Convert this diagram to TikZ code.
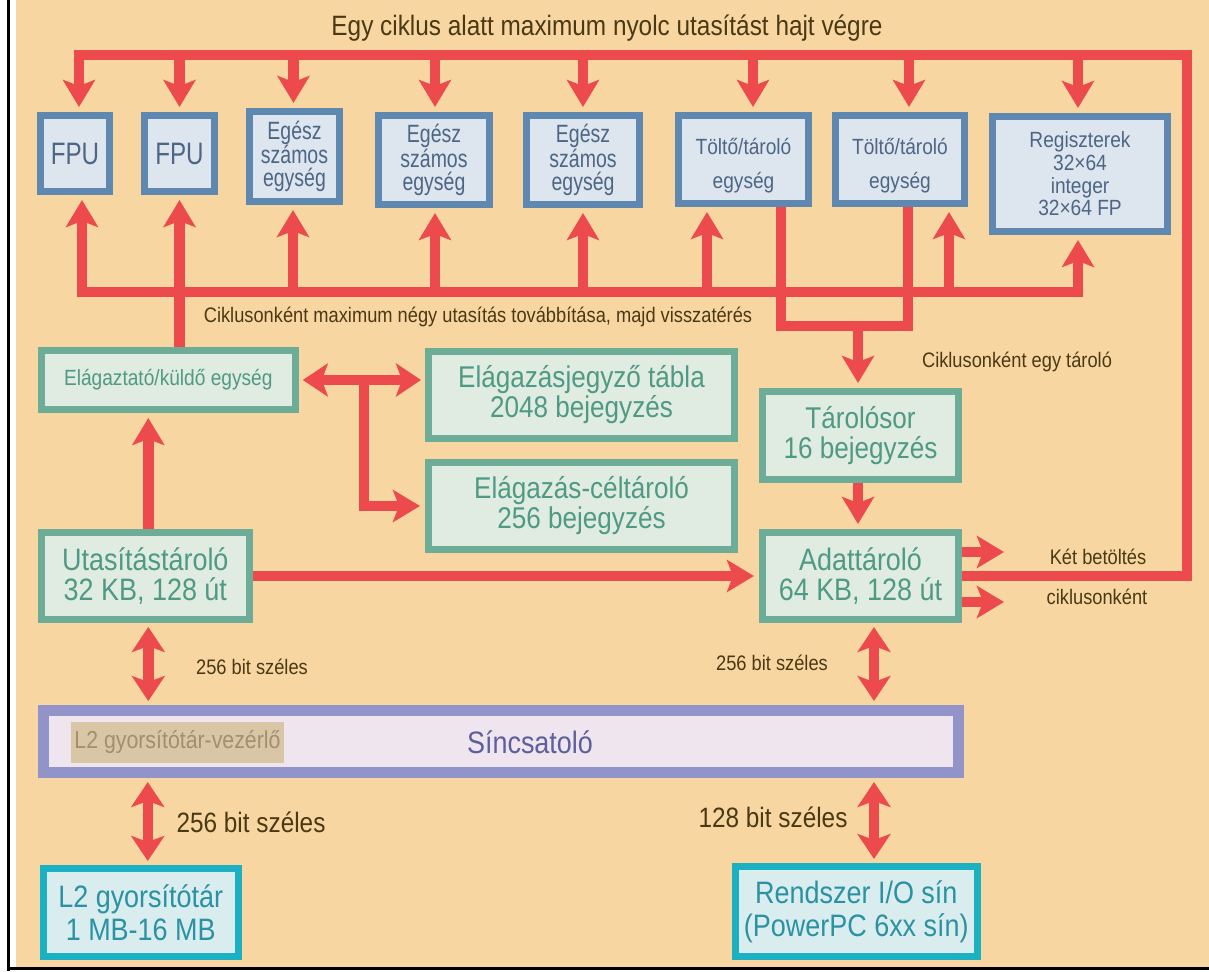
\documentclass[tikz,border=0pt]{standalone}
\usepackage{fontspec}
\setmainfont{Liberation Sans}
\newfontfamily\cf[FakeStretch=0.87]{Liberation Sans}
\newfontfamily\cfn[FakeStretch=0.78]{Liberation Sans}
\usetikzlibrary{arrows.meta}
\definecolor{bg}{HTML}{F8D6A2}
\definecolor{arr}{HTML}{EC4A4C}
\definecolor{bluebd}{HTML}{5E88AF}
\definecolor{bluefl}{HTML}{DDE5EE}
\definecolor{bluetx}{HTML}{4D6685}
\definecolor{greenbd}{HTML}{6DAD97}
\definecolor{greenfl}{HTML}{E0EBE1}
\definecolor{greentx}{HTML}{4F9A85}
\definecolor{purbd}{HTML}{9294C9}
\definecolor{purfl}{HTML}{EEE5EE}
\definecolor{purtx}{HTML}{5F5F9C}
\definecolor{cyanbd}{HTML}{1BB1C3}
\definecolor{cyanfl}{HTML}{D9ECEE}
\definecolor{cyantx}{HTML}{2A92A3}
\definecolor{tanfl}{HTML}{D8C6A6}
\definecolor{tantx}{HTML}{A48F6D}
\definecolor{lbl}{HTML}{4A3912}
\tikzset{
  bluebox/.style={draw=bluebd, fill=bluefl, line width=7pt, text=bluetx, align=center, inner sep=0pt},
  greenbox/.style={draw=greenbd, fill=greenfl, line width=7pt, text=greentx, align=center, inner sep=0pt, font=\cf\fontsize{30}{30}\selectfont},
  cyanbox/.style={draw=cyanbd, fill=cyanfl, line width=7pt, text=cyantx, align=center, inner sep=0pt, font=\cf\fontsize{31}{33}\selectfont},
  fpufont/.style={font=\cfn\fontsize{31}{31}\selectfont},
  egfont/.style={font=\cfn\fontsize{25}{23}\selectfont},
  ttfont/.style={font=\cf\fontsize{22}{34}\selectfont},
  ttlabel/.style={text=bluetx, align=center, inner sep=0pt, ttfont},
  smalllbl/.style={text=lbl, inner sep=0pt, font=\cf\fontsize{21}{21}\selectfont},
  biglbl/.style={text=lbl, inner sep=0pt, font=\cf\fontsize{28}{28}\selectfont},
  redline/.style={draw=arr, line width=10.5pt, line join=miter},
  redarrow/.style={redline, -{Stealth[length=27pt,width=32pt,inset=6pt]}, shorten >=5pt},
  reddbl/.style={redline, {Stealth[length=25pt,width=33pt,inset=6pt]}-{Stealth[length=25pt,width=33pt,inset=6pt]}, shorten >=4pt, shorten <=4pt}
}
\begin{document}
\begin{tikzpicture}[x=1pt,y=-1pt]
\useasboundingbox (0,0) rectangle (1209,971);
\fill[white] (0,0) rectangle (1209,971);
\fill[bg] (16,0) rectangle (1209,967);
\fill[black] (7,0) rectangle (9.5,971);
\fill[black] (7,967) rectangle (1209,970);

% title and labels
\node[biglbl] (title) at (607,28) {Egy ciklus alatt maximum nyolc utasítást hajt végre};
\node[smalllbl] (lblbus) at (478,317) {Ciklusonként maximum négy utasítás továbbítása, majd visszatérés};
\node[smalllbl] (lblstore) at (1017,362) {Ciklusonként egy tároló};
\node[smalllbl] (lblket) at (1098,557) {Két betöltés};
\node[smalllbl] (lblcik) at (1097,597) {ciklusonként};
\node[smalllbl] (lbl256a) at (252,667) {256 bit széles};
\node[smalllbl] (lbl256b) at (772,663) {256 bit széles};
\node[biglbl] (lbl256c) at (251,822) {256 bit széles};
\node[biglbl] (lbl128) at (773,817) {128 bit széles};

% top row
\node[bluebox, fpufont, minimum width=69pt, minimum height=76pt] (fpu1) at (75,153.5) {FPU};
\node[bluebox, fpufont, minimum width=70pt, minimum height=76pt] (fpu2) at (179.5,153.5) {FPU};
\node[bluebox, egfont, minimum width=90pt, minimum height=90pt] (eg1) at (294.5,156.5) {Egész\\számos\\egység};
\node[bluebox, egfont, minimum width=111pt, minimum height=89pt] (eg2) at (434,160) {Egész\\számos\\egység};
\node[bluebox, egfont, minimum width=113pt, minimum height=89pt] (eg3) at (583,160) {Egész\\számos\\egység};
\node[bluebox, minimum width=130pt, minimum height=88pt] (tt1) at (743.5,159.5) {};
\node[ttlabel] (tt1t) at (743.5,166) {Töltő/tároló\\egység};
\node[bluebox, minimum width=129pt, minimum height=88pt] (tt2) at (900,159.5) {};
\node[ttlabel] (tt2t) at (900,166) {Töltő/tároló\\egység};
\node[bluebox, font=\cf\fontsize{22}{22.7}\selectfont, minimum width=175pt, minimum height=115pt] (reg) at (1080,174) {Regiszterek\\32×64\\integer\\32×64 FP};

% middle
\node[greenbox, font=\cf\fontsize{22}{22}\selectfont, minimum width=254pt, minimum height=59pt] (ela) at (168.3,380) {Elágaztató/küldő egység};
\node[greenbox, minimum width=306pt, minimum height=87pt] (jegy) at (581.5,395) {Elágazásjegyző tábla\\2048 bejegyzés};
\node[greenbox, minimum width=306pt, minimum height=87pt] (cel) at (581.5,506) {Elágazás-céltároló\\256 bejegyzés};
\node[greenbox, minimum width=196pt, minimum height=88pt] (taro) at (860.5,435.5) {Tárolósor\\16 bejegyzés};
\node[greenbox, font=\cf\fontsize{31}{30}\selectfont, minimum width=196pt, minimum height=87pt] (ada) at (860.5,576) {Adattároló\\64 KB, 128 út};
\node[greenbox, font=\cf\fontsize{31}{30}\selectfont, minimum width=208pt, minimum height=87pt] (uta) at (145.3,576) {Utasítástároló\\32 KB, 128 út};

% bus interface
\node[draw=purbd, fill=purfl, line width=11pt, minimum width=915pt, minimum height=62pt, inner sep=0pt] (bar) at (500.8,741.5) {};
\node[fill=tanfl, text=tantx, inner sep=0pt, minimum width=213pt, minimum height=41pt, font=\cf\fontsize{24.5}{24.5}\selectfont] (l2c) at (177.5,742.5) {L2 gyorsítótár-vezérlő};
\node[text=purtx, inner sep=0pt, font=\cf\fontsize{31}{31}\selectfont] (sinc) at (530,742) {Síncsatoló};

% bottom
\node[cyanbox, minimum width=195.5pt, minimum height=88pt] (l2) at (140.75,912.5) {L2 gyorsítótár\\1 MB-16 MB};
\node[cyanbox, minimum width=241.6pt, minimum height=90pt] (rend) at (856.3,911.5) {Rendszer I/O sín\\(PowerPC 6xx sín)};

% coordinates
\coordinate (topy) at (0,55);
\coordinate (tr) at (1187,55);
\coordinate (busy) at (0,292);
\coordinate (ubot) at (0,326);
\coordinate (k1) at (1004,552);
\coordinate (k2) at (1004,602);
\coordinate (brx) at (364,0);

% top distribution
\draw[redarrow] (ada.east) -| (tr) -| ([xshift=4pt]fpu1.north);
\foreach \b/\s in {fpu2/0, eg1/-1, eg2/1, eg3/0, tt1/9.5, tt2/9, reg/-2}{
  \draw[redarrow] ([xshift=\s pt]\b.north |- topy) -- ([xshift=\s pt]\b.north);
}

% dispatch bus
\draw[redline, {Stealth[length=27pt,width=32pt,inset=6pt]}-{Stealth[length=27pt,width=32pt,inset=6pt]}, shorten <=5pt, shorten >=5pt]
  ([xshift=7pt]fpu1.south) |- ([xshift=-2pt]reg.south |- busy) -- ([xshift=-2pt]reg.south);
\foreach \b/\s in {eg1/-1.5, eg2/1, eg3/0, tt1/-36.5, tt2/49}{
  \draw[redarrow] ([xshift=\s pt]\b.south |- busy) -- ([xshift=\s pt]\b.south);
}
\draw[redarrow] (ela.north -| fpu2.south) -- (fpu2.south);

% store path
\draw[redline] ([xshift=37.5pt]tt1.south) -- ([xshift=37.5pt]tt1.south |- ubot) -- ([xshift=8pt]tt2.south |- ubot) -- ([xshift=8pt]tt2.south);
\draw[redarrow] ([xshift=-2.5pt]taro.north |- ubot) -- ([xshift=-2.5pt]taro.north);
\draw[redarrow] ([xshift=-2.5pt]taro.south) -- ([xshift=-2.5pt]ada.north);

% loads
\draw[redarrow, shorten >=0pt] (ada.east |- k1) -- (k1);
\draw[redarrow, shorten >=0pt] (ada.east |- k2) -- (k2);

% instruction side
\draw[redarrow] (uta.east) -- (ada.west);
\draw[redarrow] ([xshift=3pt]uta.north) -- ([xshift=3pt]uta.north |- ela.south);
\draw[reddbl] (ela.east) -- (ela.east -| jegy.west);
\draw[redarrow] (brx |- ela.east) |- (cel.west);

% bus connections
\draw[reddbl] ([xshift=3pt]uta.south) -- ([xshift=3pt]uta.south |- bar.north);
\draw[reddbl] ([xshift=13.5pt]ada.south) -- ([xshift=13.5pt]ada.south |- bar.north);
\draw[reddbl] ([xshift=7pt]l2.north |- bar.south) -- ([xshift=7pt]l2.north);
\draw[reddbl] ([xshift=17.7pt]rend.north |- bar.south) -- ([xshift=17.7pt]rend.north);
\end{tikzpicture}
\end{document}
